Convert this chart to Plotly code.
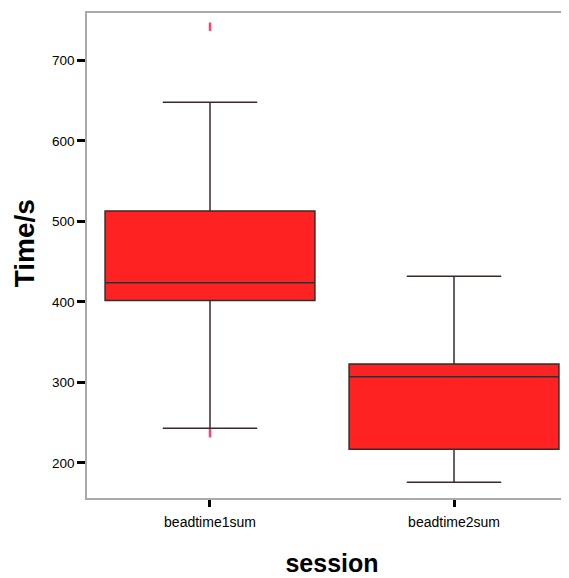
import plotly.graph_objects as go

categories = ["beadtime1sum", "beadtime2sum"]
q1 = [402, 217]
median = [424, 307]
q3 = [513, 323]
lower_whisker = [243, 176]
upper_whisker = [648, 432]
outlier_cat = ["beadtime1sum", "beadtime1sum"]
outlier_val = [742, 237]

fig = go.Figure()
fig.add_trace(go.Box(
    x=categories, q1=q1, median=median, q3=q3,
    lowerfence=lower_whisker, upperfence=upper_whisker,
    fillcolor="#ff2222", line=dict(color="#3a2a2a", width=1.5),
    width=0.86, whiskerwidth=0.45, boxpoints=False, showlegend=False,
    hoverinfo="y"
))
fig.add_trace(go.Scatter(
    x=outlier_cat, y=outlier_val, mode="markers",
    marker=dict(symbol="line-ns", size=6, line=dict(color="#ff4466", width=2.5)),
    showlegend=False
))

fig.update_layout(
    width=569, height=578,
    margin=dict(l=79, r=0, t=5, b=88),
    plot_bgcolor="white", paper_bgcolor="white",
    font=dict(family="Liberation Sans, Arial, sans-serif", color="black"),
    annotations=[dict(
        text="<b>Time/s</b>", textangle=-90, showarrow=False,
        xref="paper", yref="paper", x=-79 / 490, y=0.524,
        xanchor="left", yanchor="middle", font=dict(size=28),
        borderpad=0,
    )],
)
fig.update_xaxes(
    type="category", range=[-0.504, 1.504],
    showline=True, linecolor="#aaaaaa", linewidth=1.5, mirror=True,
    ticks="outside", ticklen=7, tickwidth=3, tickcolor="black",
    tickfont=dict(size=14), showgrid=False, ticklabelstandoff=3,
    title=dict(text="<b>session</b>", font=dict(size=25), standoff=26),
)
fig.update_yaxes(
    range=[156.5, 759], tickvals=[200, 300, 400, 500, 600, 700],
    showline=True, linecolor="#aaaaaa", linewidth=1.5,
    ticks="outside", ticklen=8, tickwidth=3, tickcolor="black",
    tickfont=dict(size=13.5), showgrid=False, zeroline=False,
)

fig.write_html("out.html")
